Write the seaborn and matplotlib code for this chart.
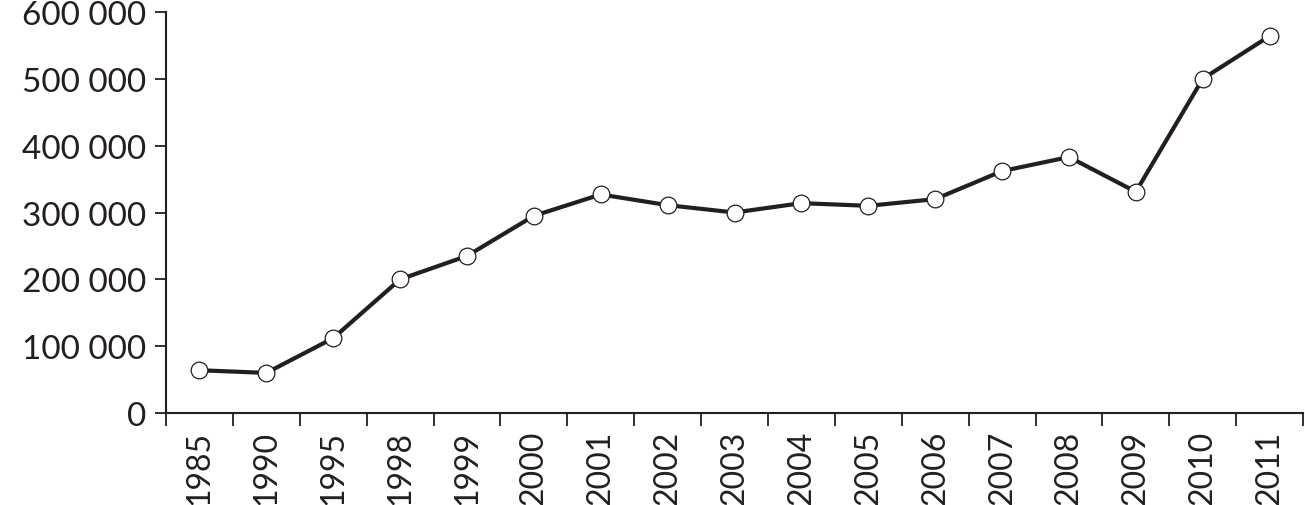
import numpy as np
import pandas as pd
import matplotlib
matplotlib.use("Agg")
import matplotlib.pyplot as plt
import seaborn as sns
from matplotlib.ticker import FuncFormatter, FixedLocator

# === Dados ===
anos = ["1985", "1990", "1995", "1998", "1999", "2000", "2001", "2002", "2003",
        "2004", "2005", "2006", "2007", "2008", "2009", "2010", "2011"]
valores = [64000, 60000, 112000, 200000, 235000, 295000, 327000, 311000, 300000,
           314000, 310000, 320000, 362000, 383000, 331000, 500000, 564000]
y_ticks = [0, 100000, 200000, 300000, 400000, 500000, 600000]

df = pd.DataFrame({"ano": anos, "valor": valores})

sns.set_style("white")
plt.rcParams["font.family"] = ["Lato", "DejaVu Sans"]
cor = "#231f20"

fig = plt.figure(figsize=(13.05, 5.06), dpi=100)
ax = fig.add_axes([0.1272, 0.1818, 0.8713, 0.7925])

sns.lineplot(data=df, x="ano", y="valor", ax=ax, color=cor, linewidth=3,
             marker="o", markersize=12, markerfacecolor="white",
             markeredgecolor=cor, markeredgewidth=0.9, sort=False)

# === Eixos ===
ax.set_xlim(-0.5, len(anos) - 0.5)
ax.set_ylim(0, 600000)
ax.set_yticks(y_ticks)
ax.yaxis.set_major_formatter(FuncFormatter(lambda v, p: f"{int(v):,}".replace(",", " ")))

ax.set_xticks(range(len(anos)))
ax.set_xticklabels(anos, rotation=90)
ax.xaxis.set_minor_locator(FixedLocator(np.arange(-0.5, len(anos), 1)))
ax.tick_params(axis="x", which="major", bottom=True, length=0, pad=12,
               labelsize=23, labelcolor=cor)
ax.tick_params(axis="x", which="minor", bottom=True, length=9, width=1.3,
               color=cor, direction="out")
ax.tick_params(axis="y", which="major", left=True, length=8, width=1.3, color=cor,
               direction="out", labelsize=24, labelcolor=cor, pad=6)

sns.despine(ax=ax)
for s in ["left", "bottom"]:
    ax.spines[s].set_color(cor)
    ax.spines[s].set_linewidth(1.5)

ax.set_xlabel("")
ax.set_ylabel("")

plt.savefig("out.png", dpi=100)
